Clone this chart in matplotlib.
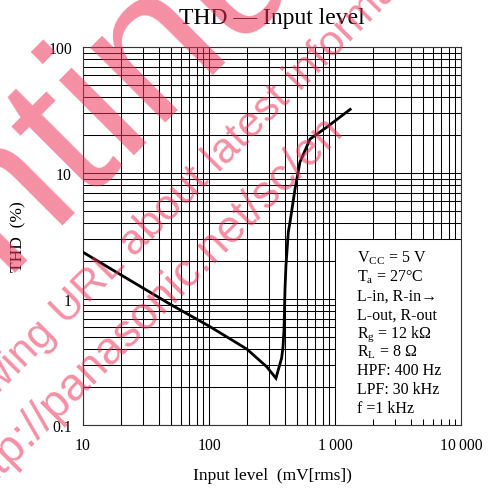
import matplotlib
matplotlib.use('Agg')
from matplotlib import pyplot as plt

# curve
input_mv = [10, 50, 100, 200, 287, 340, 377, 387, 394, 401, 408,
            426, 440, 482, 527, 634, 860, 1320]
thd_pct = [2.35, 0.90, 0.61, 0.40, 0.29, 0.235, 0.34, 0.42, 0.58, 1.2, 1.83,
           3.4, 4.1, 7.5, 12.2, 18.6, 23.1, 32.0]

x_ticks = [10, 100, 1000, 10000]
x_tick_labels = ['10', '100', '1\u2009000', '10\u2009000']
y_ticks = [0.1, 1, 10, 100]
y_tick_labels = ['0.1', '1', '10', '100']

# corner of the blank area holding the conditions
box_x = 1000
box_y = 3

conditions = [r'V$_\mathrm{CC}$ = 5 V', r'T$_\mathrm{a}$ = 27°C', 'L-in, R-in\u2192',
              'L-out, R-out', r'R$_\mathrm{g}$ = 12 kΩ', r'R$_\mathrm{L}$ = 8 Ω',
              'HPF: 400 Hz', 'LPF: 30 kHz', 'f =1 kHz']

plt.rcParams['font.family'] = ['Liberation Serif', 'DejaVu Serif']
plt.rcParams['mathtext.fontset'] = 'custom'
plt.rcParams['mathtext.rm'] = 'Liberation Serif'
plt.rcParams['mathtext.it'] = 'Liberation Serif:italic'

W = 489.0
fig = plt.figure(figsize=(4.89, 4.89), dpi=100)
ax = fig.add_axes([83 / W, 63 / W, 378 / W, 378 / W])
ax.set_xscale('log')
ax.set_yscale('log')
ax.set_xlim(10, 10000)
ax.set_ylim(0.1, 100)

# log grid, cut away where the conditions box sits
x_grid = [m * 10 ** k for k in range(1, 4) for m in range(1, 10)] + [10000]
y_grid = [m * 10.0 ** k for k in range(-1, 2) for m in range(1, 10)] + [100]
for xv in x_grid:
    ax.vlines(xv, box_y if xv > box_x else 0.1, 100, color='black', lw=0.75, zorder=1)
for yv in y_grid:
    ax.hlines(yv, 10, box_x if yv < box_y else 10000, color='black', lw=0.75, zorder=1)

ax.plot(input_mv, thd_pct, color='black', lw=2.0, zorder=3, solid_joinstyle='miter')

ax.set_xticks(x_ticks)
ax.set_xticklabels(x_tick_labels, fontsize=11.3)
ax.set_yticks(y_ticks)
ax.set_yticklabels(y_tick_labels, fontsize=11.3)
ax.tick_params(axis='x', which='both', direction='in', length=4, width=0.75, pad=9)
ax.tick_params(axis='y', which='both', length=0, pad=8)
for s in ax.spines.values():
    s.set_linewidth(0.8)
    s.set_color('#333333')

ax.set_title('THD \u2014 Input level', fontsize=17, pad=17)
ax.set_xlabel('Input level  (mV[rms])', fontsize=12.5)
ax.xaxis.set_label_coords(0.5, -0.112)
ax.set_ylabel('THD  (%)', fontsize=12.5)
ax.yaxis.set_label_coords(-0.15, 0.5)

for i, line in enumerate(conditions):
    fig.text(357 / W, (W - 263 - 18.75 * i) / W, line, fontsize=11.5, va='baseline')

# watermark
wm = dict(color=(0.93, 0.2, 0.35), alpha=0.55, rotation=45, rotation_mode='anchor',
          va='baseline', family=['Liberation Sans', 'DejaVu Sans'], zorder=10)
fig.text(-355 / W, (W - 627) / W, 'Discontinued', fontsize=145, ha='left', **wm)
fig.text(57 / W, (W - 335) / W, 'Please check the following', fontsize=31, ha='right', **wm)
fig.text(66 / W, (W - 326) / W, 'URL about latest information.', fontsize=31, ha='left', **wm)
fig.text(345 / W, (W - 131) / W, 'http://panasonic.net/sc/en', fontsize=33, ha='right', **wm)

fig.savefig('out.png', dpi=100)
